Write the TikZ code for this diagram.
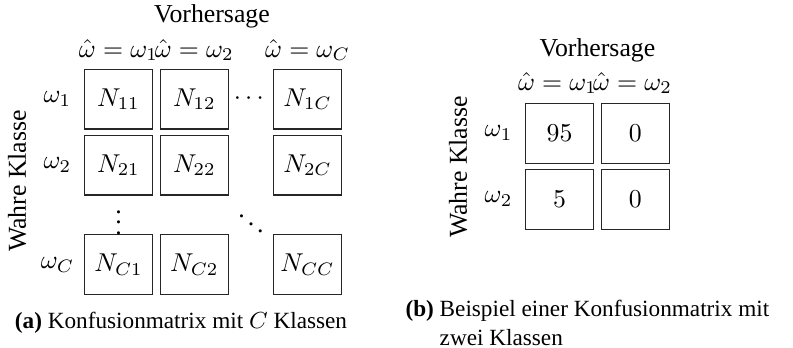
\documentclass[tikz,border=0pt]{standalone}
\usepackage{fontspec}
\setmainfont{Liberation Serif}
\usepackage{amsmath,amssymb}
\usepackage{tikz}
\usetikzlibrary{positioning}

\begin{document}
\begin{tikzpicture}[x=0.3876pt,y=-0.3876pt,
  cell/.style={rectangle,draw=black!85,minimum width=26.2pt,minimum height=23.1pt,inner sep=0pt,font=\normalsize},
  lbl/.style={inner sep=0pt,font=\normalsize},
  capt/.style={inner sep=0pt,font=\small}]
\useasboundingbox (0,0) rectangle (793,348);
% (a) general confusion matrix
\foreach \r/\ry/\rs in {1/99.2/1,2/165.2/2,C/264.7/C}
  \foreach \c/\cx/\cs in {1/118.5/1,2/194.3/2,C/307.5/C}
    \node[cell] (a\r\c) at (\cx,\ry) {$N_{\rs\cs}$};
\foreach \c/\cx in {1/118.5,2/194.3,C/307.5}
  \node[lbl] (ha\c) at (\cx,50) {$\hat{\omega}=\omega_\c$};
\foreach \r/\ry in {1/99.2,2/165.2,C/264.7}
  \node[lbl] (ra\r) at (57.5,\ry) {$\omega_\r$};
\node[lbl] (predA) at (212,16) {Vorhersage};
\node[lbl,rotate=90] (trueA) at (17,181) {Wahre Klasse};
\node[lbl] (hdots) at (251,99) {$\cdots$};
\node[lbl] (vdots) at (118.5,215) {$\vdots$};
\node[lbl] (ddots) at (251,216) {$\ddots$};
\node[capt] (captA) at (181,323) {\textbf{(a)} Konfusionmatrix mit $C$ Klassen};
% (b) example with two classes
\node[cell] (b11) at (559.5,133.3) {$95$};
\node[cell] (b12) at (635.3,133.3) {$0$};
\node[cell] (b21) at (559.5,199.3) {$5$};
\node[cell] (b22) at (635.3,199.3) {$0$};
\node[lbl] (hb1) at (557.5,83) {$\hat{\omega}=\omega_1$};
\node[lbl] (hb2) at (632.5,83) {$\hat{\omega}=\omega_2$};
\node[lbl] (rb1) at (498.5,133.3) {$\omega_1$};
\node[lbl] (rb2) at (498.5,199.3) {$\omega_2$};
\node[lbl] (predB) at (597.5,50) {Vorhersage};
\node[lbl,rotate=90] (trueB) at (458,167) {Wahre Klasse};
\node[capt,anchor=west,align=left] (captB) at (405,323)
  {\textbf{(b)} Beispiel einer Konfusionmatrix mit\\\hphantom{\textbf{(b)}\ }zwei Klassen};
\end{tikzpicture}
\end{document}
